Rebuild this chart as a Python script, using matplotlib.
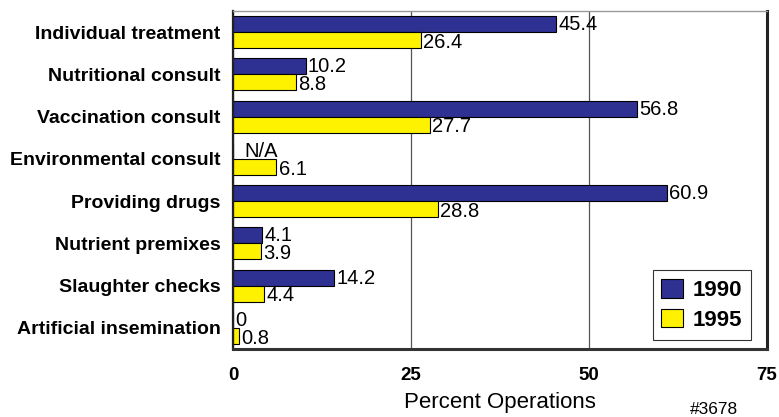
import matplotlib
matplotlib.use("Agg")
import matplotlib.pyplot as plt
import numpy as np

plt.rcParams["font.family"] = ["Liberation Sans", "DejaVu Sans"]

categories = [
    "Individual treatment",
    "Nutritional consult",
    "Vaccination consult",
    "Environmental consult",
    "Providing drugs",
    "Nutrient premixes",
    "Slaughter checks",
    "Artificial insemination",
]
vals_1990 = [45.4, 10.2, 56.8, None, 60.9, 4.1, 14.2, 0]
vals_1995 = [26.4, 8.8, 27.7, 6.1, 28.8, 3.9, 4.4, 0.8]

navy = "#2E3192"
yellow = "#FFF200"

fig = plt.figure(figsize=(7.79, 4.17), dpi=100)
ax = fig.add_axes([233 / 779, 1 - 349 / 417, 534 / 779, 338 / 417])

y = np.arange(len(categories))
h = 0.38
v90 = [v if v is not None else 0 for v in vals_1990]
ax.barh(y - h / 2, v90, height=h, color=navy, edgecolor="black", linewidth=0.8, label="1990")
ax.barh(y + h / 2, vals_1995, height=h, color=yellow, edgecolor="black", linewidth=0.8, label="1995")

# value labels next to bar ends
for i, (a, b) in enumerate(zip(vals_1990, vals_1995)):
    txt = "N/A" if a is None else (f"{a:g}" if a == 0 else f"{a:.1f}")
    xa = 1.6 if a is None else a + 0.3
    ax.text(xa, i - h / 2 + 0.01, txt, va="center", ha="left", fontsize=14.5)
    ax.text(b + 0.3, i + h / 2 + 0.05, f"{b:.1f}", va="center", ha="left", fontsize=14.5)

ax.set_xlim(0, 75)
ax.set_ylim(len(categories) - 0.5, -0.5)
ax.set_xticks([0, 25, 50, 75])
ax.set_xticklabels(["0", "25", "50", "75"], fontweight="bold", fontsize=13.5)
ax.set_yticks(y)
ax.set_yticklabels(categories, fontweight="bold", fontsize=14)
ax.tick_params(length=0, pad=13, axis="x")
ax.tick_params(length=0, pad=9, axis="y")
ax.xaxis.grid(True, color="#555555", linewidth=0.9)
ax.set_axisbelow(True)

ax.spines["top"].set_color("#999999")
ax.spines["top"].set_linewidth(1.0)
ax.spines["left"].set_color("#222222")
ax.spines["left"].set_linewidth(1.6)
ax.spines["right"].set_color("#222222")
ax.spines["right"].set_linewidth(2.2)
ax.spines["bottom"].set_color("#333333")
ax.spines["bottom"].set_linewidth(2.2)

ax.set_xlabel("Percent Operations", fontsize=16, labelpad=6)

leg = ax.legend(loc="lower right", bbox_to_anchor=(0.97, 0.028), fancybox=False, edgecolor="black",
                prop={"weight": "bold", "size": 16}, handlelength=0.95, handleheight=0.9,
                borderpad=0.4, labelspacing=0.35, handletextpad=0.45, borderaxespad=0)
leg.get_frame().set_linewidth(0.8)

fig.text(714 / 779, 1 - 410 / 417, "#3678", ha="center", va="center", fontsize=12.5)

fig.savefig("out.png", dpi=100)
